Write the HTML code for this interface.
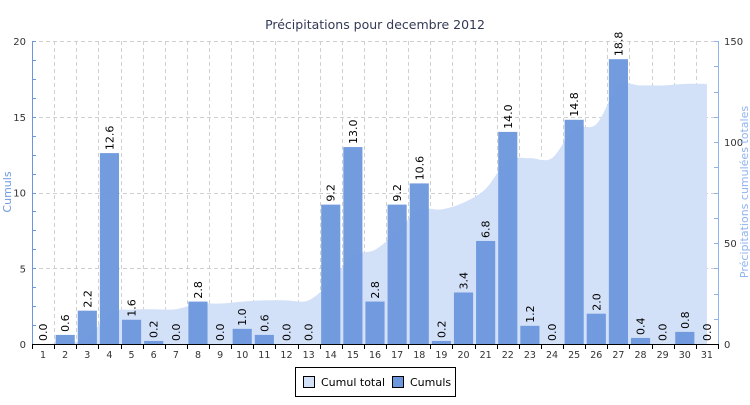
<!DOCTYPE html>
<html><head><meta charset="utf-8"><style>
body{margin:0;background:#fff}
svg text{font-family:"DejaVu Sans","Liberation Sans",sans-serif}
</style></head><body>
<svg id="c" width="750" height="400" xmlns="http://www.w3.org/2000/svg">
<text x="375" y="29" text-anchor="middle" font-size="12.5" fill="#333a55">Précipitations pour decembre 2012</text>
<g id="grid"></g><g id="area"></g><g id="bars"></g><g id="axes"></g>
<text transform="translate(11,192) rotate(-90)" text-anchor="middle" font-size="11" fill="#6f9be0">Cumuls</text>
<text transform="translate(748,192) rotate(-90)" text-anchor="middle" font-size="11" fill="#8fb3ee" font-family="DejaVu Sans Mono,monospace">Précipitations cumulées totales</text>
<g>
<rect x="295.5" y="367.5" width="160" height="29" fill="#fff" stroke="#000"/>
<rect x="303.5" y="376.5" width="11" height="11" fill="#d2e0f8" stroke="#000"/>
<text x="321" y="386" font-size="11" font-family="DejaVu Sans Mono,Liberation Mono,monospace">Cumul total</text>
<rect x="392.5" y="376.5" width="11" height="11" fill="#6c97dc" stroke="#000"/>
<text x="410" y="386" font-size="11" font-family="DejaVu Sans Mono,Liberation Mono,monospace">Cumuls</text>
</g>
</svg>
<script>
const days=[1,2,3,4,5,6,7,8,9,10,11,12,13,14,15,16,17,18,19,20,21,22,23,24,25,26,27,28,29,30,31];
const daily=[0,0.6,2.2,12.6,1.6,0.2,0,2.8,0,1.0,0.6,0,0,9.2,13.0,2.8,9.2,10.6,0.2,3.4,6.8,14.0,1.2,0,14.8,2.0,18.8,0.4,0,0.8,0];
const leftTicks=[0,5,10,15,20];
const rightTicks=[0,50,100,150];
const NS="http://www.w3.org/2000/svg";
const L=32,R=718,T=41,B=344;
const slot=(R-L)/days.length;
const xC=i=>L+slot*(i+0.5);
const yL=v=>B-(v/20)*(B-T);
const yR=v=>B-(v/150)*(B-T);
function mk(t,a,p){const e=document.createElementNS(NS,t);for(const k in a)e.setAttribute(k,a[k]);p.appendChild(e);return e;}
const grid=document.getElementById('grid'),axes=document.getElementById('axes'),bars=document.getElementById('bars'),area=document.getElementById('area');
for(let v=0;v<=20;v+=1.25){const y=Math.round(yL(v))+0.5;
 if(v%5===0&&v>0){const g=mk('line',{x1:L,x2:R,y1:y,y2:y,stroke:'#d0d0d0','stroke-dasharray':'4,3'},grid);
 
 }
 mk('line',{x1:L,x2:L+4,y1:y,y2:y,stroke:'#6c97dc'},axes);}
for(let v=0;v<=150;v+=12.5){const y=Math.round(yR(v))+0.5;mk('line',{x1:R-4,x2:R,y1:y,y2:y,stroke:'#8fb3ee'},axes);}
for(let i=0;i<=days.length;i++){const x=Math.round(L+slot*i)+0.5;
 if(i>0&&i<days.length){const g=mk('line',{x1:x,x2:x,y1:T,y2:B,stroke:'#d0d0d0','stroke-dasharray':'4,3'},grid);
 
 }
 mk('line',{x1:x,x2:x,y1:B,y2:B+5,stroke:'#000'},axes);}
const cum=[];let s=0;daily.forEach(v=>{s+=v;cum.push(s);});
const pts=cum.map((v,i)=>[xC(i),yR(v)]);
let d='M'+pts[0][0]+','+B+' L'+pts[0][0]+','+pts[0][1];
for(let i=0;i<pts.length-1;i++){const p0=pts[Math.max(0,i-1)],p1=pts[i],p2=pts[i+1],p3=pts[Math.min(pts.length-1,i+2)];
 const c1=[p1[0]+(p2[0]-p0[0])/6,Math.min(B,p1[1]+(p2[1]-p0[1])/6)],c2=[p2[0]-(p3[0]-p1[0])/6,Math.min(B,p2[1]-(p3[1]-p1[1])/6)];
 d+=` C${c1[0]},${c1[1]} ${c2[0]},${c2[1]} ${p2[0]},${p2[1]}`;}
d+=` L${pts[pts.length-1][0]},${B} Z`;
const ar=mk('path',{d:d,fill:'#d2e0f8'},area);


daily.forEach((v,i)=>{const x=xC(i),w=slot-3,y=yL(v);
 const b=mk('rect',{x:x-w/2,y:y,width:w,height:B-y,fill:'#6c97dc','fill-opacity':0.95},bars);
 
 
 const t=mk('text',{transform:`translate(${x+4},${y-3}) rotate(-90)`,'font-size':11,'font-family':'DejaVu Sans Mono,monospace'},bars);
 t.textContent=v.toFixed(1);
 
 
 const xl=mk('text',{x:x,y:B+14,'text-anchor':'middle','font-size':9.5,fill:'#333'},axes);
 xl.textContent=days[i];
 
 });
mk('line',{x1:L+0.5,x2:L+0.5,y1:T,y2:B,stroke:'#6c97dc'},axes);
mk('line',{x1:R+0.5,x2:R+0.5,y1:T,y2:B,stroke:'#8fb3ee'},axes);
mk('line',{x1:L,x2:R,y1:B+0.5,y2:B+0.5,stroke:'#000'},axes);
leftTicks.forEach(v=>{const t=mk('text',{x:L-6,y:yL(v)+4,'text-anchor':'end','font-size':10,fill:'#333'},axes);t.textContent=v;
 
 });
rightTicks.forEach(v=>{const t=mk('text',{x:R+6,y:yR(v)+4,'font-size':10,fill:'#333'},axes);t.textContent=v;
 
 });
</script>
</body></html>
